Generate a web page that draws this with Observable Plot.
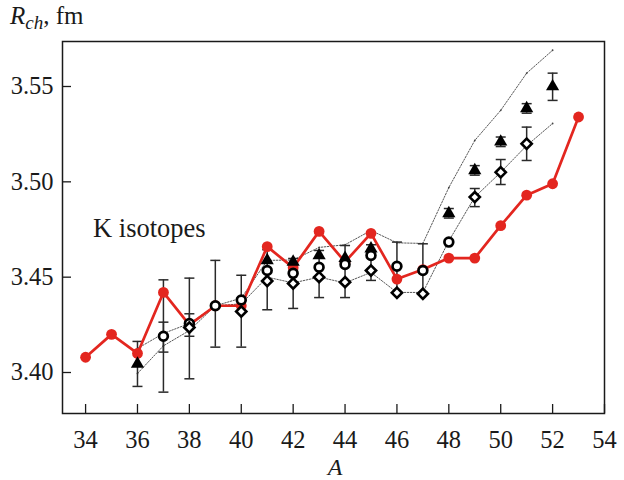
<!DOCTYPE html>
<html><head><meta charset="utf-8">
<script src="https://cdn.jsdelivr.net/npm/d3@7"></script>
<script src="https://cdn.jsdelivr.net/npm/@observablehq/plot@0.6"></script>
<style>body{margin:0;background:#fff}</style>
</head><body><div id="chart"></div>
<script>
// ---- data ----
const xTicks = [34,36,38,40,42,44,46,48,50,52,54];
const yTicks = [3.40,3.45,3.50,3.55];

const redA = [34,35,36,37,38,39,40,41,42,43,44,45,46,47,48,49,50,51,52,53];
const redR = [3.408,3.420,3.410,3.442,3.425,3.435,3.435,3.466,3.455,3.474,3.458,3.473,3.449,3.454,3.460,3.460,3.477,3.493,3.499,3.534];

const triA = [36,41,42,43,44,45,48,49,50,51,52];
const triR = [3.4045,3.4588,3.458,3.4614,3.460,3.465,3.4834,3.506,3.521,3.5385,3.550];

const circA = [37,38,39,40,41,42,43,44,45,46,47,48];
const circR = [3.419,3.4257,3.435,3.438,3.4535,3.452,3.4552,3.4567,3.4614,3.4557,3.4535,3.4684];

const diaA = [38,40,41,42,43,44,45,46,47,49,50,51];
const diaR = [3.4236,3.432,3.448,3.4467,3.450,3.4474,3.4535,3.4418,3.4413,3.492,3.505,3.520];

const errA  = [36,37,37,38,38,39,40,41,42,43,44,45,46,47,48,49,50,51,49,50,51,52];
const errLo = [3.3927,3.3897,3.4107,3.3967,3.419,3.4133,3.4133,3.4329,3.4336,3.4393,3.4393,3.4483,3.442,3.442,3.481,3.5035,3.5185,3.536,3.487,3.4986,3.5112,3.5427];
const errHi = [3.4163,3.4486,3.4264,3.4495,3.4308,3.4588,3.451,3.4644,3.4598,3.464,3.4666,3.467,3.4684,3.4675,3.486,3.5085,3.5235,3.541,3.4965,3.5117,3.5287,3.557];

const bandA  = [36,37,38,39,40,41,42,43,44,45,46,47,48,49,50,51,52];
const upperR = [3.4126,3.4205,3.4257,3.435,3.439,3.4588,3.459,3.4656,3.467,3.4745,3.468,3.4677,3.497,3.5217,3.5375,3.557,3.569];
const lowerR = [3.3995,3.414,3.422,3.435,3.436,3.450,3.447,3.450,3.447,3.4525,3.442,3.442,3.469,3.492,3.505,3.519,3.5306];

// ---- tables ----
const zip = (a, b) => a.map((A, i) => ({A, R: b[i]}));
const red = zip(redA, redR), tri = zip(triA, triR), circ = zip(circA, circR), dia = zip(diaA, diaR);
const upper = zip(bandA, upperR), lower = zip(bandA, lowerR);
const err = errA.map((A, i) => ({A, lo: errLo[i], hi: errHi[i]}));

const W = 624, H = 480, mL = 62, mR = 20, mT = 41, mB = 67;
const innerW = W - mL - mR, innerH = H - mT - mB;
const FONT = "'Liberation Serif', 'Times New Roman', serif";
const RED = "#e3261f", INK = "#1a1a1a";
const cap = {draw(ctx, size) { const r = Math.sqrt(size / Math.PI); ctx.moveTo(-r, 0); ctx.lineTo(r, 0); }};

const plot = Plot.plot({
  width: W, height: H, marginLeft: mL, marginRight: mR, marginTop: mT, marginBottom: mB,
  style: {fontFamily: FONT, fontSize: "24px", color: INK, background: "#fff", overflow: "visible"},
  x: {domain: [33.11, 54]},
  y: {domain: [3.3785, 3.5736]},
  marks: [
    Plot.axisX(xTicks, {tickSize: 0, tickPadding: 17, label: null, fontSize: 24.5}),
    Plot.axisY(yTicks, {tickSize: 0, tickPadding: 9, label: null, fontSize: 24.5, tickFormat: d => d.toFixed(2)}),
    Plot.ruleX(xTicks, {x: d => d, insetTop: innerH - 9, stroke: INK, strokeWidth: 1.3}),
    Plot.ruleY(yTicks, {y: d => d, insetRight: innerW - 9, stroke: INK, strokeWidth: 1.3}),
    Plot.line(upper, {x: "A", y: "R", stroke: "#444", strokeWidth: 0.9, strokeDasharray: "1.5,1.5"}),
    Plot.line(lower, {x: "A", y: "R", stroke: "#444", strokeWidth: 0.9, strokeDasharray: "1.5,1.5"}),
    Plot.dot(upper, {x: "A", y: "R", r: 0.9, fill: "#444"}),
    Plot.dot(lower, {x: "A", y: "R", r: 0.9, fill: "#444"}),
    Plot.ruleX(err, {x: "A", y1: "lo", y2: "hi", stroke: "#2a2a2a", strokeWidth: 1.5}),
    Plot.dot(err, {x: "A", y: "lo", symbol: cap, r: 5, stroke: "#2a2a2a", strokeWidth: 1.5}),
    Plot.dot(err, {x: "A", y: "hi", symbol: cap, r: 5, stroke: "#2a2a2a", strokeWidth: 1.5}),
    Plot.line(red, {x: "A", y: "R", stroke: RED, strokeWidth: 2.7}),
    Plot.dot(red, {x: "A", y: "R", r: 5.4, fill: RED}),
    Plot.dot(tri, {x: "A", y: "R", symbol: "triangle", r: 4.9, fill: "#000"}),
    Plot.dot(circ, {x: "A", y: "R", r: 4.4, stroke: "#000", strokeWidth: 2.7, fill: "#fff"}),
    Plot.dot(dia, {x: "A", y: "R", symbol: "diamond2", r: 4.6, stroke: "#000", strokeWidth: 2.6, fill: "#fff"}),
    Plot.frame({stroke: INK, strokeWidth: 1.5})
  ]
});

const svg = d3.select(plot);
svg.append("text").attr("x", 93).attr("y", 237).attr("text-anchor", "start")
  .attr("font-family", FONT).attr("font-size", 26.5).attr("fill", INK).text("K isotopes");

const yl = svg.append("text").attr("x", 10).attr("y", 24).attr("text-anchor", "start")
  .attr("font-family", FONT).attr("font-size", 25).attr("fill", INK);
yl.append("tspan").attr("font-style", "italic").text("R");
yl.append("tspan").attr("font-style", "italic").attr("font-size", 19).attr("dy", 5).text("ch");
yl.append("tspan").attr("dy", -5).text(", fm");

svg.append("text").attr("x", 335).attr("y", 475)
  .attr("text-anchor", "middle").attr("font-family", FONT).attr("font-size", 24)
  .attr("font-style", "italic").attr("fill", INK).text("A");

document.getElementById("chart").appendChild(plot);
</script>
</body></html>
